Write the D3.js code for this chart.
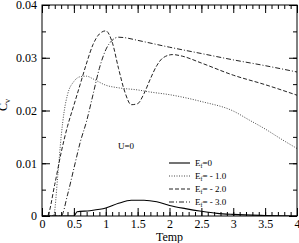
<!DOCTYPE html>
<html>
<head>
<meta charset="utf-8">
<script src="https://cdn.jsdelivr.net/npm/d3@7"></script>
<style>
  body { margin: 0; background: #fff; }
  svg, svg text { font-family: "Times New Roman", "Liberation Serif", "DejaVu Serif", serif !important; fill: #000; }
</style>
</head>
<body>
<script>
// temperatures and Cv for each Ef
var tE0 = [0, 0.5, 0.55, 0.75, 1.0, 1.2, 1.4, 1.6, 1.8, 2.0, 2.25, 2.5, 2.75, 3.0, 3.5, 4.0];
var cE0 = [0, 0, 0.0008, 0.0010, 0.0015, 0.0024, 0.0030, 0.0030, 0.0027, 0.0020, 0.0014, 0.0009, 0.0005, 0.0003, 0.0001, 0.0];

var tE1 = [0, 0.18, 0.25, 0.3, 0.35, 0.4, 0.5, 0.6, 0.7, 0.8, 1.0, 1.2, 1.5, 1.7, 2.0, 2.5, 3.0, 3.25, 3.5, 3.75, 4.0];
var cE1 = [0, 0, 0.008, 0.015, 0.020, 0.023, 0.0255, 0.0264, 0.0265, 0.0260, 0.0248, 0.0243, 0.0239, 0.0235, 0.0230, 0.0217, 0.0199, 0.0182, 0.0165, 0.0146, 0.0128];

var tE2 = [0, 0.08, 0.2, 0.3, 0.4, 0.5, 0.6, 0.7, 0.8, 0.9, 1.0, 1.1, 1.2, 1.3, 1.4, 1.5, 1.6, 1.7, 1.8, 1.9, 2.05, 2.2, 2.5, 3.0, 3.5, 4.0];
var cE2 = [0, 0, 0.006, 0.012, 0.017, 0.021, 0.025, 0.029, 0.0325, 0.0345, 0.0351, 0.0330, 0.0280, 0.0235, 0.0211, 0.0213, 0.0232, 0.0260, 0.0285, 0.0300, 0.0306, 0.0303, 0.0290, 0.0267, 0.0249, 0.0229];

var tE3 = [0, 0.3, 0.4, 0.5, 0.6, 0.7, 0.8, 0.9, 1.0, 1.1, 1.2, 1.3, 1.5, 2.0, 2.5, 3.0, 3.5, 4.0];
var cE3 = [0, 0, 0.004, 0.009, 0.014, 0.018, 0.023, 0.028, 0.0315, 0.0333, 0.0339, 0.0338, 0.0333, 0.0320, 0.0308, 0.0296, 0.0285, 0.0273];

var legendLabels = ["0", " - 1.0", " - 2.0", " - 3.0"];
var xTicks = [0, 0.5, 1, 1.5, 2, 2.5, 3, 3.5, 4];
var yTicks = [0, 0.01, 0.02, 0.03, 0.04];

var series = [
  { t: tE0, c: cE0, dash: null, col: "#000", w: 1.1 },
  { t: tE1, c: cE1, dash: "1,1.5", col: "#333", w: 0.9 },
  { t: tE2, c: cE2, dash: "4,2", col: "#222", w: 1 },
  { t: tE3, c: cE3, dash: "5,2,1,2", col: "#222", w: 1 }
];

var margin = { top: 5, right: 2, bottom: 27, left: 42 },
    W = 299, H = 243,
    width = W - margin.left - margin.right,
    height = H - margin.top - margin.bottom;

var svg = d3.select("body").append("svg")
  .attr("width", W).attr("height", H)
  .attr("font-family", "Liberation Serif");
var g = svg.append("g")
  .attr("transform", "translate(" + margin.left + "," + margin.top + ")");

var x = d3.scaleLinear().domain([0, 4]).range([0, width]);
var y = d3.scaleLinear().domain([0, 0.04]).range([height, 0]);

// clip the curves to the frame
g.append("clipPath").attr("id", "clip")
  .append("rect").attr("width", width).attr("height", height);

var line = d3.line()
  .x(function (d) { return x(d[0]); })
  .y(function (d) { return y(d[1]); })
  .curve(d3.curveMonotoneX);

series.forEach(function (s) {
  g.append("path")
    .datum(s.t.map(function (t, i) { return [t, s.c[i]]; }))
    .attr("clip-path", "url(#clip)")
    .attr("fill", "none")
    .attr("stroke", s.col)
    .attr("stroke-width", s.w)
    .attr("stroke-dasharray", s.dash)
    .attr("d", line);
});

// axes, ticks pointing inward
var minorX = d3.range(0, 4.001, 0.1);
var minorY = d3.range(0, 0.0401, 0.005);

function styleAxis(sel) {
  sel.attr("font-family", null);
  sel.select(".domain").remove();
  sel.selectAll("line").attr("stroke", "#000").attr("stroke-width", 1);
}

g.append("g").attr("transform", "translate(0," + height + ")")
  .call(d3.axisBottom(x).tickValues(minorX).tickSize(-4).tickFormat(""))
  .call(styleAxis);
g.append("g").attr("transform", "translate(0," + height + ")")
  .call(d3.axisBottom(x).tickValues(xTicks).tickSize(-8).tickPadding(3)
    .tickFormat(function (d) { return d; }))
  .call(styleAxis)
  .selectAll("text").style("font-size", "12px");

g.append("g")
  .call(d3.axisTop(x).tickValues(minorX).tickSize(-4).tickFormat(""))
  .call(styleAxis);
g.append("g")
  .call(d3.axisTop(x).tickValues(xTicks).tickSize(-8).tickFormat(""))
  .call(styleAxis);

g.append("g")
  .call(d3.axisLeft(y).tickValues(minorY).tickSize(-4).tickFormat(""))
  .call(styleAxis);
g.append("g")
  .call(d3.axisLeft(y).tickValues(yTicks).tickSize(-8).tickPadding(5)
    .tickFormat(function (d) { return d === 0 ? "0" : d3.format(".2f")(d); }))
  .call(styleAxis)
  .selectAll("text").style("font-size", "12px");

g.append("g").attr("transform", "translate(" + width + ",0)")
  .call(d3.axisRight(y).tickValues(minorY).tickSize(-4).tickFormat(""))
  .call(styleAxis);
g.append("g").attr("transform", "translate(" + width + ",0)")
  .call(d3.axisRight(y).tickValues(yTicks).tickSize(-8).tickFormat(""))
  .call(styleAxis);

g.append("rect")
  .attr("width", width).attr("height", height)
  .attr("fill", "none").attr("stroke", "#000").attr("stroke-width", 1);

// axis titles
svg.append("text")
  .attr("x", margin.left + width / 2).attr("y", 241)
  .attr("text-anchor", "middle").style("font-size", "12px")
  .text("Temp");

var cv = svg.append("text")
  .attr("transform", "translate(7,111) rotate(-90)")
  .style("font-size", "12px");
cv.append("tspan").text("C");
cv.append("tspan").attr("dy", 3).style("font-size", "8px").text("v");

svg.append("text")
  .attr("x", 118).attr("y", 149).style("font-size", "9px")
  .text("U=0");

// legend
var legend = svg.append("g");
series.forEach(function (s, i) {
  var ly = 163 + i * 13;
  legend.append("line")
    .attr("x1", 169).attr("x2", 190)
    .attr("y1", ly).attr("y2", ly)
    .attr("stroke", s.col).attr("stroke-width", s.w)
    .attr("stroke-dasharray", s.dash);
  var t = legend.append("text")
    .attr("x", 195).attr("y", ly + 3).style("font-size", "9px");
  t.append("tspan").text("E");
  t.append("tspan").attr("dy", 2).style("font-size", "6px").text("f");
  t.append("tspan").attr("dy", -2).text("=" + legendLabels[i]);
});
</script>
</body>
</html>
